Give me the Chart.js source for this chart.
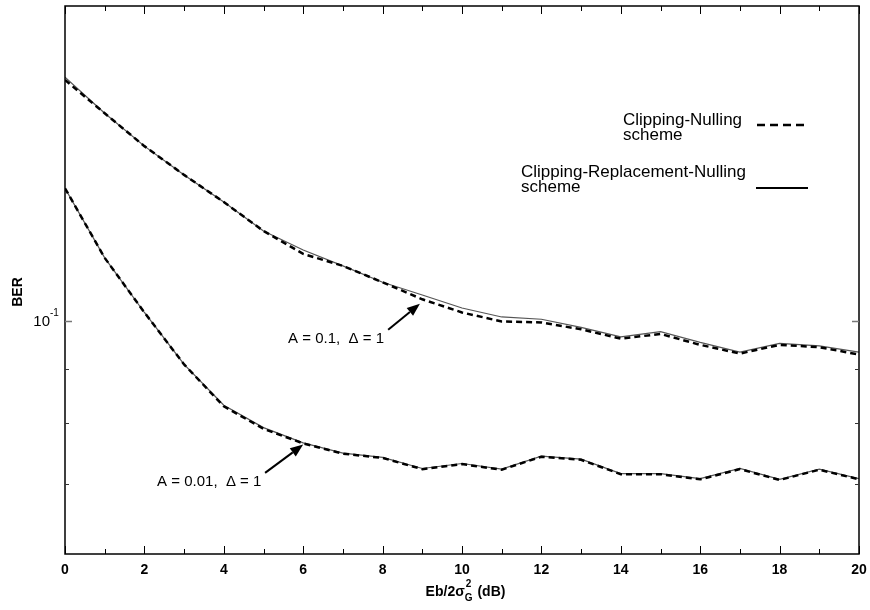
<!DOCTYPE html>
<html>
<head>
<meta charset="utf-8">
<script src="https://cdn.jsdelivr.net/npm/chart.js@4.4.1/dist/chart.umd.min.js"></script>
<style>
html,body{margin:0;padding:0;background:#fff;}
#wrap{width:870px;height:610px;position:relative;}
</style>
</head>
<body>
<div id="wrap"><canvas id="c" width="870" height="610"></canvas></div>
<script>
// ---- data ----
const ebN0 = [0,1,2,3,4,5,6,7,8,9,10,11,12,13,14,15,16,17,18,19,20];
// A = 0.1, Δ = 1
const clipNull_A01 = [0.170,0.158,0.147,0.138,0.130,0.122,0.116,0.113,0.109,0.105,0.102,0.100,0.0998,0.0983,0.0963,0.0973,0.0950,0.0932,0.0950,0.0945,0.0930];
const clipRepNull_A01 = [0.171,0.158,0.147,0.138,0.130,0.122,0.117,0.113,0.109,0.106,0.103,0.101,0.1005,0.0987,0.0967,0.0978,0.0955,0.0935,0.0953,0.0948,0.0935];
// A = 0.01, Δ = 1
const clipNull_A001 = [0.134,0.115,0.102,0.091,0.083,0.079,0.0765,0.0748,0.0741,0.0723,0.0731,0.0722,0.0743,0.0738,0.0715,0.0715,0.0707,0.0723,0.0706,0.0722,0.0707];
const clipRepNull_A001 = [0.134,0.115,0.102,0.091,0.0832,0.0792,0.0766,0.0749,0.0742,0.0724,0.0732,0.0723,0.0744,0.0739,0.0716,0.0716,0.0708,0.0724,0.0707,0.0723,0.0708];
const yTickValues = [0.07,0.08,0.09,0.1];
const xTickLabels = ['0','2','4','6','8','10','12','14','16','18','20'];
const seriesNames = ['Clipping-Nulling scheme','Clipping-Replacement-Nulling scheme'];
const annotationTexts = ['A = 0.1,  \u0394 = 1','A = 0.01,  \u0394 = 1'];

const FONT = '"Liberation Sans", Arial, sans-serif';
const pts = arr => ebN0.map((x,i)=>({x:x,y:arr[i]}));

const dashedStyle = {borderColor:'#000',borderWidth:2.5,borderDash:[6,4],pointRadius:0,tension:0,fill:false};
const solidStyle = {borderColor:'#555',borderWidth:1.2,pointRadius:0,tension:0,fill:false};

const annotations = [
  {text:annotationTexts[0], tx:5.62, ty:0.0962, from:[8.14,0.0982], to:[8.94,0.1040]},
  {text:annotationTexts[1], tx:2.32, ty:0.0703, from:[5.04,0.0717], to:[6.0,0.0763]}
];

const deco = {
  id:'deco',
  afterDraw(chart){
    const ctx = chart.ctx, a = chart.chartArea, xs = chart.scales.x, ys = chart.scales.y;
    ctx.save();
    // frame
    ctx.strokeStyle = '#000'; ctx.lineWidth = 1.5;
    ctx.strokeRect(a.left, a.top, a.right-a.left, a.bottom-a.top);
    // x ticks (inward, bottom and top)
    ctx.lineWidth = 1;
    for (let v=0; v<=20; v++){
      const px = Math.round(xs.getPixelForValue(v))+0.5;
      const len = v%2 ? 5 : 8;
      ctx.beginPath();
      ctx.moveTo(px,a.bottom); ctx.lineTo(px,a.bottom-len);
      ctx.moveTo(px,a.top); ctx.lineTo(px,a.top+len);
      ctx.stroke();
    }
    // y ticks (inward, left and right)
    yTickValues.forEach(v=>{
      const py = Math.round(ys.getPixelForValue(v))+0.5;
      const len = v===0.1 ? 7 : 4;
      ctx.strokeStyle = v===0.1 ? '#777' : '#333';
      ctx.lineWidth = v===0.1 ? 1.5 : 1;
      ctx.beginPath();
      ctx.moveTo(a.left,py); ctx.lineTo(a.left+len,py);
      ctx.moveTo(a.right,py); ctx.lineTo(a.right-len,py);
      ctx.stroke();
    });
    // y tick label 10^-1
    ctx.fillStyle = '#000';
    const y01 = ys.getPixelForValue(0.1);
    ctx.font = '15px '+FONT; ctx.textAlign='right'; ctx.textBaseline='middle';
    ctx.fillText('10', 50, y01);
    ctx.font = '10px '+FONT; ctx.textAlign='left';
    ctx.fillText('-1', 50, y01-8);
    // y axis title
    ctx.save();
    ctx.translate(18, 292); ctx.rotate(-Math.PI/2);
    ctx.font = 'bold 14px '+FONT; ctx.textAlign='center'; ctx.textBaseline='middle';
    ctx.fillText('BER',0,0);
    ctx.restore();
    // x axis title: Eb/2σ_G^2 (dB)
    ctx.textBaseline='alphabetic'; ctx.textAlign='left';
    const big = 'bold 14px '+FONT, small = 'bold 10px '+FONT;
    const p1='Eb/2\u03c3', p3=' (dB)';
    ctx.font = big; const w1 = ctx.measureText(p1).width, w3 = ctx.measureText(p3).width;
    ctx.font = small; const w2 = Math.max(ctx.measureText('G').width, ctx.measureText('2').width);
    let x0 = (a.left+a.right)/2 - (w1+w2+w3)/2 + 3;
    const by = 596;
    ctx.font = big; ctx.fillText(p1, x0, by);
    ctx.font = small; ctx.fillText('2', x0+w1+1, by-9); ctx.fillText('G', x0+w1, by+5);
    ctx.font = big; ctx.fillText(p3, x0+w1+w2+1, by);
    // legend
    ctx.font = '17px '+FONT; ctx.fillStyle='#000';
    ctx.fillText('Clipping-Nulling', 623, 125);
    ctx.fillText('scheme', 623, 140);
    ctx.fillText('Clipping-Replacement-Nulling', 521, 177);
    ctx.fillText('scheme', 521, 192);
    ctx.strokeStyle='#000'; ctx.lineWidth=2.5; ctx.setLineDash([8,5]);
    ctx.beginPath(); ctx.moveTo(757,125); ctx.lineTo(808,125); ctx.stroke();
    ctx.setLineDash([]); ctx.lineWidth=2;
    ctx.beginPath(); ctx.moveTo(756,188); ctx.lineTo(808,188); ctx.stroke();
    // annotations with arrows (positioned in data coordinates)
    annotations.forEach(an=>{
      ctx.font='15px '+FONT; ctx.fillStyle='#000'; ctx.textBaseline='middle'; ctx.textAlign='left';
      ctx.fillText(an.text, xs.getPixelForValue(an.tx), ys.getPixelForValue(an.ty));
      const fx = xs.getPixelForValue(an.from[0]), fy = ys.getPixelForValue(an.from[1]);
      const tx = xs.getPixelForValue(an.to[0]), ty = ys.getPixelForValue(an.to[1]);
      const ang = Math.atan2(ty-fy, tx-fx), hl = 13, hw = 5;
      const bx = tx - hl*Math.cos(ang), byy = ty - hl*Math.sin(ang);
      ctx.strokeStyle='#000'; ctx.lineWidth=2;
      ctx.beginPath(); ctx.moveTo(fx,fy); ctx.lineTo(bx,byy); ctx.stroke();
      ctx.beginPath();
      ctx.moveTo(tx,ty);
      ctx.lineTo(bx + hw*Math.sin(ang), byy - hw*Math.cos(ang));
      ctx.lineTo(bx - hw*Math.sin(ang), byy + hw*Math.cos(ang));
      ctx.closePath(); ctx.fill();
    });
    ctx.restore();
  }
};

new Chart(document.getElementById('c'), {
  type:'line',
  data:{
    datasets:[
      Object.assign({label:seriesNames[0], data:pts(clipNull_A01)}, dashedStyle),
      Object.assign({label:seriesNames[0]+' (A=0.01)', data:pts(clipNull_A001)}, dashedStyle),
      Object.assign({label:seriesNames[1], data:pts(clipRepNull_A01)}, solidStyle),
      Object.assign({label:seriesNames[1]+' (A=0.01)', data:pts(clipRepNull_A001)}, solidStyle)
    ]
  },
  options:{
    responsive:false, animation:false,
    layout:{padding:{top:6,right:11,left:0,bottom:0}},
    plugins:{legend:{display:false},tooltip:{enabled:false}},
    scales:{
      x:{type:'linear',min:0,max:20,
        grid:{display:false,drawTicks:false},border:{display:false},
        ticks:{stepSize:1,autoSkip:false,maxRotation:0,padding:8,color:'#000',
          font:{family:FONT,size:14,weight:'bold'},
          callback:(v)=> v%2===0 ? xTickLabels[v/2] : ''},
        afterFit:(s)=>{s.height=56; s.paddingLeft=0; s.paddingRight=0;}
      },
      y:{type:'logarithmic',min:0.06,max:0.2,
        grid:{display:false,drawTicks:false},border:{display:false},
        ticks:{display:false},
        afterBuildTicks:(s)=>{s.ticks = yTickValues.map(v=>({value:v}));},
        afterFit:(s)=>{s.width=65;}
      }
    }
  },
  plugins:[deco]
});
</script>
</body>
</html>
